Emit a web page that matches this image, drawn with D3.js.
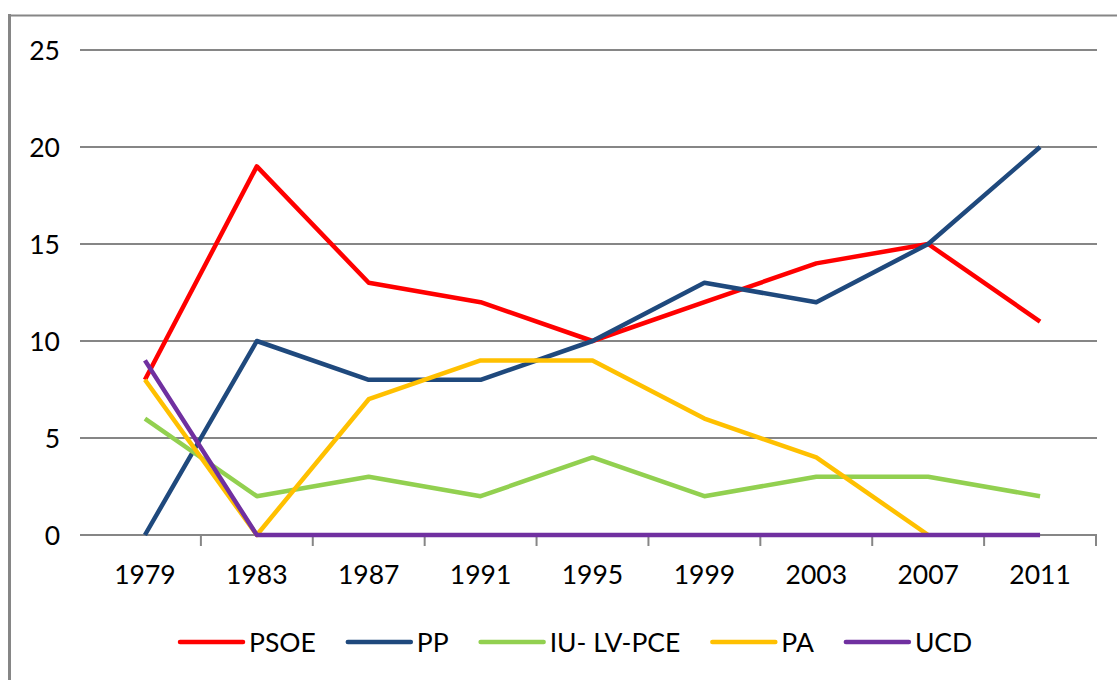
<!DOCTYPE html>
<html lang="en">
<head>
    <meta charset="UTF-8">
    <title>Escaños por partido</title>
    <script src="https://cdnjs.cloudflare.com/ajax/libs/d3/7.8.5/d3.min.js"></script>
    <style>
        html, body { margin: 0; padding: 0; background: #fff; }
        svg text { font-family: Lato, "Noto Sans", sans-serif; fill: #000; }
    </style>
</head>
<body>
    <div id="chart"></div>
    <script>
        // data
        var years = ['1979', '1983', '1987', '1991', '1995', '1999', '2003', '2007', '2011'];
        var yTicks = [0, 5, 10, 15, 20, 25];
        var psoe = [8, 19, 13, 12, 10, 12, 14, 15, 11];
        var pp   = [0, 10, 8, 8, 10, 13, 12, 15, 20];
        var iu   = [6, 2, 3, 2, 4, 2, 3, 3, 2];
        var pa   = [8, 0, 7, 9, 9, 6, 4, 0, null];
        var ucd  = [9, 0, 0, 0, 0, 0, 0, 0, 0];

        var series = [
            { name: 'PSOE', values: psoe, color: '#ff0000' },
            { name: 'PP', values: pp, color: '#1f497d' },
            { name: 'IU- LV-PCE', values: iu, color: '#92d050' },
            { name: 'PA', values: pa, color: '#ffc000' },
            { name: 'UCD', values: ucd, color: '#7030a0' }
        ];

        var w = 1117,
            h = 680,
            fontSize = 26.5,
            svg = d3.select('#chart')
                    .append('svg')
                    .attr('width', w)
                    .attr('height', h);

        // chart frame (only left and top edges are in view)
        svg.append('line')
            .attr('x1', 9.5).attr('x2', 9.5).attr('y1', 14).attr('y2', h)
            .attr('stroke', '#868686').attr('stroke-width', 3);
        svg.append('line')
            .attr('x1', 8).attr('x2', w).attr('y1', 15.5).attr('y2', 15.5)
            .attr('stroke', '#868686').attr('stroke-width', 2);

        var xScale = d3.scaleBand()
                    .domain(years)
                    .range([89, 1096])
                    .padding(0);
        var xMid = (d) => xScale(d) + xScale.bandwidth() / 2;

        var yScale = d3.scaleLinear()
                    .domain([0, 25])
                    .range([535, 50]);

        // GRID
        svg.append('g')
            .selectAll('line')
            .data(yTicks)
            .enter()
            .append('line')
            .attr('x1', 80)
            .attr('x2', 1097)
            .attr('y1', (d) => yScale(d))
            .attr('y2', (d) => yScale(d))
            .attr('stroke', '#868686')
            .attr('stroke-width', 2);

        // Y LABELS
        svg.append('g')
            .selectAll('text')
            .data(yTicks)
            .enter()
            .append('text')
            .attr('x', 60)
            .attr('y', (d) => yScale(d) + 9.5)
            .attr('text-anchor', 'end')
            .style('font-size', fontSize + 'px')
            .text((d) => d);

        // X-AXIS ticks between categories
        svg.append('g')
            .selectAll('line')
            .data(years)
            .enter()
            .append('line')
            .attr('x1', (d) => xScale(d) + xScale.bandwidth())
            .attr('x2', (d) => xScale(d) + xScale.bandwidth())
            .attr('y1', yScale(0))
            .attr('y2', yScale(0) + 11)
            .attr('stroke', '#868686')
            .attr('stroke-width', 2);

        svg.append('g')
            .selectAll('text')
            .data(years)
            .enter()
            .append('text')
            .attr('x', (d) => xMid(d))
            .attr('y', 584)
            .attr('text-anchor', 'middle')
            .style('font-size', fontSize + 'px')
            .text((d) => d);

        // LINES
        var line = d3.line()
                    .defined((d) => d != null)
                    .x((d, i) => xMid(years[i]))
                    .y((d) => yScale(d));

        svg.append('g')
            .selectAll('path')
            .data(series)
            .enter()
            .append('path')
            .attr('d', (s) => line(s.values))
            .attr('fill', 'none')
            .attr('stroke', (s) => s.color)
            .attr('stroke-width', 4.5)
            .attr('stroke-linejoin', 'round');

        // LEGEND
        var legend = svg.append('g'),
            lx = 180,
            ly = 642;
        series.forEach((s) => {
            legend.append('line')
                .attr('x1', lx).attr('x2', lx + 63)
                .attr('y1', ly).attr('y2', ly)
                .attr('stroke', s.color)
                .attr('stroke-width', 4.5)
                .attr('stroke-linecap', 'round');
            var t = legend.append('text')
                .attr('x', lx + 69)
                .attr('y', ly + 9.5)
                .style('font-size', fontSize + 'px')
                .text(s.name);
            lx += 69 + t.node().getComputedTextLength() + 32;
        });
    </script>
</body>
</html>
